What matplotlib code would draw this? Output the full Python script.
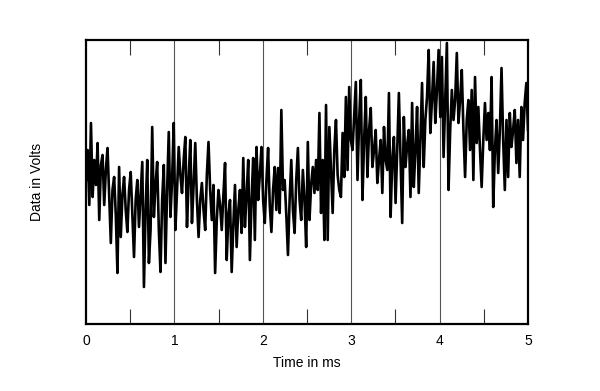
import numpy as np
import matplotlib
matplotlib.use("Agg")
import matplotlib.pyplot as plt

plt.rcParams['font.family'] = ['Liberation Sans', 'DejaVu Sans']

# Signal values (Volts, arbitrary offset)
volts = [
    0.02, 0.32, -0.23, 0.59, -0.15, 0.22, -0.03, 0.39, -0.38, 0.17,
    0.27, -0.23, 0.12, 0.34, -0.13, -0.61, -0.08, 0.05, -0.33, -0.91,
    0.15, -0.55, -0.13, 0.05, -0.28, -0.50, -0.08, 0.10, -0.33, -0.75,
    -0.18, 0.02, -0.45, -0.13, 0.20, -1.05, -0.28, 0.22, -0.81, -0.48,
    0.55, -0.35, -0.03, 0.20, -0.48, -0.90, -0.18, 0.17, -0.81, -0.08,
    0.50, -0.35, 0.02, 0.59, -0.48, -0.08, 0.35, 0.07, -0.11, 0.22,
    0.45, -0.45, 0.02, 0.42, -0.41, -0.03, 0.39, -0.18, -0.55, -0.18,
    -0.01, -0.28, -0.48, 0.07, 0.40, -0.08, -0.38, -0.03, -0.91, -0.38,
    -0.08, -0.23, -0.48, -0.13, 0.19, -0.78, -0.33, -0.18, -0.90, -0.43,
    -0.03, -0.65, -0.28, -0.08, -0.51, 0.24, -0.45, -0.13, 0.22, -0.78,
    -0.18, 0.24, -0.58, 0.35, -0.18, 0.07, 0.35, -0.18, -0.41, 0.02,
    0.34, -0.23, -0.50, -0.08, 0.15, -0.28, 0.14, -0.31, 0.72, -0.08,
    0.02, -0.33, -0.73, -0.18, 0.22, -0.28, -0.51, 0.02, 0.34, -0.18,
    -0.38, 0.12, -0.18, -0.65, 0.40, -0.38, -0.03, 0.15, -0.11, 0.22,
    -0.08, 0.69, -0.31, 0.22, -0.58, 0.77, -0.58, 0.55, 0.12, -0.31,
    0.32, 0.62, 0.07, -0.08, -0.15, 0.49, 0.05, 0.85, 0.12, 0.95,
    0.42, 0.32, 0.67, 1.00, 0.02, 0.62, 1.02, -0.18, 0.42, 0.85,
    0.05, 0.52, 0.74, 0.15, 0.32, 0.52, -0.01, 0.22, 0.42, -0.11,
    0.55, 0.22, 0.12, 0.89, -0.35, 0.22, 0.45, -0.21, 0.32, 0.89,
    0.22, -0.41, 0.65, 0.15, 0.37, 0.52, -0.15, 0.79, -0.05, 0.32,
    0.75, -0.11, 0.42, 0.99, 0.15, 0.62, 0.85, 1.32, 0.49, 0.82,
    1.20, 0.59, 0.92, 1.32, 0.65, 1.25, 0.25, 0.82, 1.39, -0.08,
    0.52, 0.92, 0.62, 0.82, 1.29, 0.59, 0.82, 1.12, 0.52, 0.05,
    0.62, 0.82, 0.32, 0.92, 0.02, 1.05, 0.39, 0.75, 0.32, -0.05,
    0.42, 0.79, 0.42, 0.69, 0.32, 1.05, -0.25, 0.32, 0.62, 0.09,
    0.52, 1.14, 0.42, -0.08, 0.62, 0.05, 0.69, 0.35, 0.52, 0.72,
    0.19, 0.62, 0.05, 0.75, 0.42, 0.79, 0.99, 0.52,
]
t_start, t_end = 0.0, 5.0
x_ticks = [0, 1, 2, 3, 4, 5]
x_labels = ['0', '1', '2', '3', '4', '5']
half_ticks = [0.5, 1.5, 2.5, 3.5, 4.5]
grid_lines = [1, 2, 3, 4]

time = np.linspace(t_start, t_end, len(volts))

fig = plt.figure(figsize=(6.0, 3.91), dpi=100)
ax = fig.add_axes([86/600, 1-324/391, (528-86)/600, (324-40)/391])

for g in grid_lines:
    ax.axvline(g, color='#555555', linewidth=0.8, zorder=1)

ax.plot(time, volts, color='black', linewidth=1.9, zorder=2,
        solid_joinstyle='round')

ax.set_xlim(t_start, t_end)
ax.set_ylim(-1.42, 1.42)
ax.set_xticks(x_ticks)
ax.set_xticklabels(x_labels, fontsize=10)
ax.set_xticks(half_ticks, minor=True)
ax.tick_params(axis='x', which='major', direction='in', length=0, pad=7)
ax.tick_params(axis='x', which='minor', direction='in', length=11,
               width=0.8, top=True, bottom=True, color='#333333')
ax.set_yticks([])

for sp in ax.spines.values():
    sp.set_linewidth(1.6)
    sp.set_color('black')

ax.set_xlabel('Time in ms', fontsize=10, labelpad=6)
ax.set_ylabel('Data in Volts', fontsize=10, labelpad=30)

fig.savefig('out.png', dpi=100)
